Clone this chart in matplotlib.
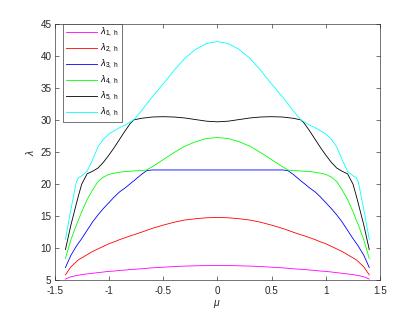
import matplotlib
matplotlib.use("Agg")
import matplotlib.pyplot as plt

plt.rcParams['font.family'] = ['Liberation Sans', 'DejaVu Sans']
plt.rcParams['mathtext.fontset'] = 'custom'
plt.rcParams['mathtext.rm'] = 'Liberation Sans'
plt.rcParams['mathtext.it'] = 'Liberation Sans:italic'

mu = [-1.4, -1.35, -1.3, -1.28, -1.25, -1.2, -1.15, -1.1, -1.05, -1.0, -0.95, -0.9,
      -0.85, -0.8, -0.77, -0.7, -0.65, -0.6, -0.5, -0.4, -0.3, -0.2, -0.1, 0.0,
      0.1, 0.2, 0.3, 0.4, 0.5, 0.6, 0.65, 0.7, 0.77, 0.8, 0.85, 0.9, 0.95, 1.0,
      1.05, 1.1, 1.15, 1.2, 1.25, 1.28, 1.3, 1.35, 1.4]

lam1 = [5.2, 5.55, 5.75, 5.8, 5.9, 6.0, 6.1, 6.2, 6.3, 6.4, 6.45, 6.55,
        6.6, 6.7, 6.72, 6.8, 6.88, 6.95, 7.05, 7.15, 7.22, 7.27, 7.3, 7.3,
        7.3, 7.27, 7.22, 7.15, 7.05, 6.95, 6.88, 6.8, 6.72, 6.7, 6.6, 6.55, 6.45, 6.4,
        6.3, 6.2, 6.1, 6.0, 5.9, 5.8, 5.75, 5.55, 5.2]

lam2 = [5.85, 7.1, 7.9, 8.2, 8.5, 9.0, 9.5, 9.9, 10.3, 10.7, 11.0, 11.35,
        11.65, 11.95, 12.1, 12.5, 12.8, 13.1, 13.6, 14.05, 14.4, 14.6, 14.75, 14.8,
        14.75, 14.6, 14.4, 14.05, 13.6, 13.1, 12.8, 12.5, 12.1, 11.95, 11.65, 11.35, 11.0, 10.7,
        10.3, 9.9, 9.5, 9.0, 8.5, 8.2, 7.9, 7.1, 5.85]

lam3 = [7.0, 8.9, 10.3, 10.8, 11.5, 12.8, 14.1, 15.2, 16.2, 17.1, 18.0, 18.8,
        19.4, 20.1, 20.5, 21.5, 22.1, 22.2, 22.2, 22.2, 22.2, 22.2, 22.2, 22.2,
        22.2, 22.2, 22.2, 22.2, 22.2, 22.2, 22.1, 21.5, 20.5, 20.1, 19.4, 18.8, 18.0, 17.1,
        16.2, 15.2, 14.1, 12.8, 11.5, 10.8, 10.3, 8.9, 7.0]

lam4 = [8.4, 11.3, 13.6, 14.4, 15.7, 17.6, 19.1, 20.4, 21.1, 21.5, 21.7, 21.85,
        21.95, 22.0, 22.05, 22.1, 22.2, 22.7, 23.8, 24.9, 25.9, 26.6, 27.1, 27.25,
        27.1, 26.6, 25.9, 24.9, 23.8, 22.7, 22.2, 22.1, 22.05, 22.0, 21.95, 21.85, 21.7, 21.5,
        21.1, 20.4, 19.1, 17.6, 15.7, 14.4, 13.6, 11.3, 8.4]

lam5 = [9.8, 13.6, 16.9, 18.2, 20.0, 21.6, 22.0, 22.5, 23.4, 24.5, 25.7, 27.0,
        28.3, 29.5, 30.0, 30.25, 30.35, 30.45, 30.5, 30.45, 30.3, 30.05, 29.8, 29.7,
        29.8, 30.05, 30.3, 30.45, 30.5, 30.45, 30.35, 30.25, 30.0, 29.5, 28.3, 27.0, 25.7, 24.5,
        23.4, 22.5, 22.0, 21.6, 20.0, 18.2, 16.9, 13.6, 9.8]

lam6 = [11.4, 16.0, 20.3, 21.0, 21.3, 22.0, 23.8, 25.8, 27.0, 27.8, 28.3, 28.8,
        29.2, 29.7, 30.0, 31.4, 32.5, 33.6, 35.6, 37.7, 39.6, 41.0, 41.9, 42.2,
        41.9, 41.0, 39.6, 37.7, 35.6, 33.6, 32.5, 31.4, 30.0, 29.7, 29.2, 28.8, 28.3, 27.8,
        27.0, 25.8, 23.8, 22.0, 21.3, 21.0, 20.3, 16.0, 11.4]

series = [lam1, lam2, lam3, lam4, lam5, lam6]
labels = [r'$\lambda_{1,\ \mathrm{h}}$', r'$\lambda_{2,\ \mathrm{h}}$', r'$\lambda_{3,\ \mathrm{h}}$',
          r'$\lambda_{4,\ \mathrm{h}}$', r'$\lambda_{5,\ \mathrm{h}}$', r'$\lambda_{6,\ \mathrm{h}}$']
colors = ['#ff00ff', '#ff0000', '#0000ff', '#00ff00', '#000000', '#00ffff']

xticks = [-1.5, -1, -0.5, 0, 0.5, 1, 1.5]
xticklabels = ['-1.5', '-1', '-0.5', '0', '0.5', '1', '1.5']
yticks = [5, 10, 15, 20, 25, 30, 35, 40, 45]

fig = plt.figure(figsize=(5.6, 4.2), dpi=75)
ax = fig.add_axes([0.13, 0.11, 0.775, 0.815])
for s, lab, c in zip(series, labels, colors):
    ax.plot(mu, s, color=c, lw=0.8, label=lab)

ax.set_xlim(-1.5, 1.5)
ax.set_ylim(5, 45)
ax.set_xticks(xticks)
ax.set_xticklabels(xticklabels)
ax.set_yticks(yticks)
axc = '#262626'
for sp in ax.spines.values():
    sp.set_color(axc)
    sp.set_linewidth(0.6)
ax.tick_params(direction='in', top=True, right=True, length=4, width=0.6,
               colors=axc, labelsize=9.5, labelcolor=axc)
ax.tick_params(axis='x', pad=5)
ax.tick_params(axis='y', pad=3)
ax.set_xlabel(r'$\mu$', fontsize=10, color=axc, labelpad=2)
ax.set_ylabel(r'$\lambda$', fontsize=10, color=axc)

leg = ax.legend(loc='upper left', bbox_to_anchor=(0.026, 1.0), fontsize=9,
                handlelength=3.3, fancybox=False, framealpha=1, edgecolor=axc,
                borderpad=0.3, labelspacing=0.32, handletextpad=0.35, borderaxespad=0)
leg.get_frame().set_linewidth(0.6)

fig.savefig('out.png', dpi=75)
